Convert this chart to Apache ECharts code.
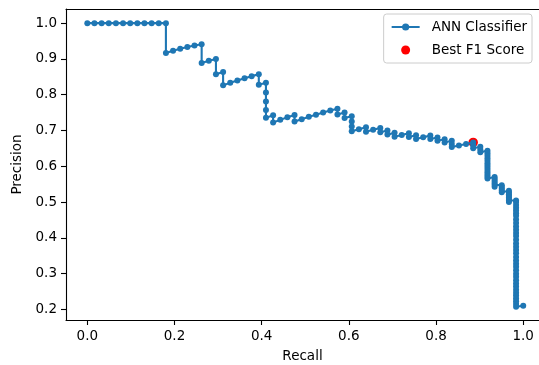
<!DOCTYPE html>
<html><head><meta charset="utf-8">
<script src="https://cdn.jsdelivr.net/npm/echarts@6/dist/echarts.min.js"></script>
<style>html,body{margin:0;padding:0;background:#fff}#c{width:539px;height:365px}</style>
</head><body><div id="c"></div>
<script>
const recall = [
 0,0.0164,0.0328,0.0492,0.0656,0.082,0.0984,0.1148,0.1311,0.1475,0.1639,0.1803,
 0.1803,0.1967,0.2131,0.2295,0.2459,0.2623,
 0.2623,0.2787,0.2951,
 0.2951,0.3115,
 0.3115,0.3279,0.3443,0.3607,0.377,0.3934,
 0.3934,0.4098,
 0.4098,0.4098,0.4098,0.4098,0.4262,
 0.4262,0.4426,0.459,0.4754,
 0.4754,0.4918,0.5082,0.5246,0.541,0.5574,0.5738,
 0.5738,0.5902,
 0.5902,0.6066,
 0.6066,0.6066,0.6066,0.623,0.6393,
 0.6393,0.6557,0.6721,
 0.6721,0.6885,
 0.6885,0.7049,
 0.7049,0.7213,0.7377,
 0.7377,0.7541,
 0.7541,0.7705,0.7869,
 0.7869,0.8033,
 0.8033,0.8197,
 0.8197,0.8361,
 0.8361,0.8361,0.8525,0.8689,0.8852,
 0.8852,0.8852,0.9016,
 0.9016,0.9016,0.918,
 0.918,0.918,0.918,0.918,0.918,0.918,0.918,0.918,0.918,0.918,0.918,0.918,0.9344,
 0.9344,0.9344,0.9344,0.9344,0.9344,0.9508,
 0.9508,0.9508,0.9508,0.9508,0.9672,
 0.9672,0.9672,0.9672,0.9672,0.9672,0.9672,0.9672,0.9836,
 0.9836,0.9836,0.9836,0.9836,0.9836,0.9836,0.9836,0.9836,0.9836,0.9836,
 0.9836,0.9836,0.9836,0.9836,0.9836,0.9836,0.9836,0.9836,0.9836,0.9836,
 0.9836,0.9836,0.9836,0.9836,0.9836,0.9836,0.9836,0.9836,0.9836,0.9836,
 0.9836,0.9836,0.9836,0.9836,1.0
];
const precision = [
 1,1,1,1,1,1,1,1,1,1,1,1,
 0.9167,0.9231,0.9286,0.9333,0.9375,0.9412,
 0.8889,0.8947,0.9,
 0.8571,0.8636,
 0.8261,0.8333,0.84,0.8462,0.8519,0.8571,
 0.8276,0.8333,
 0.8065,0.7813,0.7576,0.7353,0.7429,
 0.7222,0.7297,0.7368,0.7436,
 0.725,0.7317,0.7381,0.7442,0.75,0.7556,0.7609,
 0.7447,0.75,
 0.7347,0.74,
 0.7255,0.7115,0.6981,0.7037,0.7091,
 0.6964,0.7018,0.7069,
 0.6949,0.7,
 0.6885,0.6935,
 0.6825,0.6875,0.6923,
 0.6818,0.6866,
 0.6765,0.6812,0.6857,
 0.6761,0.6806,
 0.6712,0.6757,
 0.6667,0.6711,
 0.6623,0.6538,0.6582,0.6625,0.6667,
 0.6585,0.6506,0.6548,
 0.6471,0.6395,0.6437,
 0.6364,0.6292,0.6222,0.6154,0.6087,0.6022,0.5957,0.5895,0.5833,0.5773,0.5714,0.5657,0.57,
 0.5644,0.5588,0.5534,0.5481,0.5429,0.5472,
 0.5421,0.537,0.5321,0.5273,0.5315,
 0.5268,0.5221,0.5175,0.513,0.5086,0.5043,0.5,0.5042,
 0.5,0.4918,0.4839,0.4762,0.4688,0.4615,0.4511,0.4412,0.4317,0.4225,
 0.4138,0.4054,0.3947,0.3846,0.375,0.3659,0.3571,0.3468,0.3371,0.3279,
 0.3191,0.3093,0.3,0.2913,0.2817,0.2727,0.2643,0.2553,0.2469,0.239,
 0.2308,0.223,0.2151,0.2076,0.2103
];
const bestF1 = [0.8852, 0.6667];
const xTicks = [0, 0.2, 0.4, 0.6, 0.8, 1.0];
const yTicks = [0.2, 0.3, 0.4, 0.5, 0.6, 0.7, 0.8, 0.9, 1.0];
const names = ['ANN Classifier', 'Best F1 Score'];
const axisTitles = ['Recall', 'Precision'];

const font = 'DejaVu Sans';
const curve = recall.map((r, i) => [r, precision[i]]);
const chart = echarts.init(document.getElementById('c'), null, {renderer: 'canvas'});
const black = '#000';
const txt = {color: black, fontSize: 13.5, fontFamily: font};
chart.setOption({
  animation: false,
  grid: {left: 66, top: 9, right: 0, bottom: 45, containLabel: false, outerBoundsMode: 'none'},
  xAxis: [{
    type: 'value', min: -0.0489, max: 1.0362, position: 'bottom',
    axisLine: {show: true, onZero: false, lineStyle: {color: black, width: 1.1}},
    axisTick: {show: true, customValues: xTicks, length: 5, lineStyle: {color: black, width: 1.1}},
    axisLabel: Object.assign({customValues: xTicks, formatter: v => v.toFixed(1), margin: 9}, txt),
    splitLine: {show: false},
    name: axisTitles[0], nameLocation: 'middle', nameGap: 29, nameTextStyle: txt
  }, {
    type: 'value', min: -0.0489, max: 1.0362, position: 'top',
    axisLine: {show: true, onZero: false, lineStyle: {color: black, width: 1.1}},
    axisTick: {show: false}, axisLabel: {show: false}, splitLine: {show: false}
  }],
  yAxis: [{
    type: 'value', min: 0.1705, max: 1.0395,
    axisLine: {show: true, onZero: false, lineStyle: {color: black, width: 1.1}},
    axisTick: {show: true, customValues: yTicks, length: 5, lineStyle: {color: black, width: 1.1}},
    axisLabel: Object.assign({customValues: yTicks, formatter: v => v.toFixed(1), margin: 9}, txt),
    splitLine: {show: false},
    name: axisTitles[1], nameLocation: 'middle', nameGap: 37, nameTextStyle: txt
  }],
  legend: {
    orient: 'vertical', right: 7, top: 14,
    padding: [6, 5, 6, 7], itemGap: 9, itemWidth: 28, itemHeight: 9,
    backgroundColor: '#fff', borderColor: '#cccccc', borderWidth: 1, borderRadius: 3,
    textStyle: Object.assign({padding: [0, 0, 0, 7]}, txt),
    data: [{name: names[0]}, {name: names[1], icon: 'circle'}]
  },
  series: [{
    name: names[1], type: 'scatter', data: [bestF1], symbolSize: 9.5,
    itemStyle: {color: '#ff0000', opacity: 1}, z: 2
  }, {
    name: names[0], type: 'line', data: curve, symbol: 'circle', symbolSize: 6,
    showSymbol: true, showAllSymbol: true,
    lineStyle: {color: '#1f77b4', width: 2.1}, itemStyle: {color: '#1f77b4', opacity: 1}, z: 3
  }]
});
</script></body></html>
